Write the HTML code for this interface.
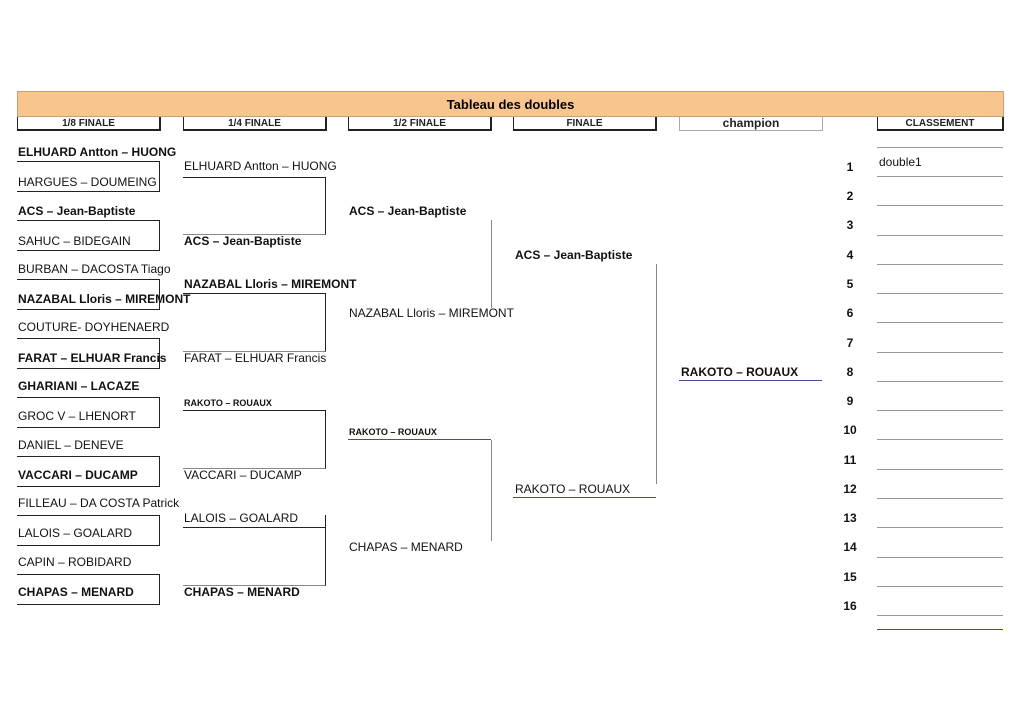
<!DOCTYPE html>
<html><head><meta charset="utf-8"><style>
body{margin:0;width:1024px;height:724px;background:#fff;position:relative;overflow:hidden;font-family:"Liberation Sans",sans-serif;}
div{position:absolute;}
.t{font-size:12px;color:#111;white-space:nowrap;line-height:14px;}
.b{font-weight:bold;}
.s{font-size:9px;font-weight:bold;}
.h{top:117px;height:12px;border:1px solid #222;border-top:none;border-width:0 2px 2px 1px;font-size:10px;font-weight:bold;text-align:center;line-height:14px;color:#222;}
.vl{width:0;border-left:1.3px solid #222;}
.g{border-color:#888;}
.bl{border-top:1.5px solid #4a4aa0;height:0;}
.n{font-size:12px;font-weight:bold;left:838px;width:24px;text-align:center;}
.cl{left:877px;width:126px;height:0;border-top:1px solid #999;}
</style></head><body>
<div style="left:17px;top:91px;width:985px;height:24px;background:#f9c58f;border:1px solid #c9a070;font-weight:bold;font-size:13px;text-align:center;line-height:26px;">Tableau des doubles</div>
<div class="h" style="left:17px;width:141px">1/8 FINALE</div>
<div class="h" style="left:183px;width:141px">1/4 FINALE</div>
<div class="h" style="left:348px;width:141px">1/2 FINALE</div>
<div class="h" style="left:513px;width:141px">FINALE</div>
<div class="h" style="left:679px;width:142px;height:13px;border-color:#aaa;border-width:0 1px 1px 1px;font-size:12px;line-height:12px">champion</div>
<div class="h" style="left:877px;width:124px">CLASSEMENT</div>

<!-- 1/8 names -->
<div class="t b" style="left:18px;top:145px">ELHUARD Antton – HUONG</div>
<div class="t" style="left:18px;top:175px">HARGUES – DOUMEING</div>
<div class="t b" style="left:18px;top:204px">ACS – Jean-Baptiste</div>
<div class="t" style="left:18px;top:234px">SAHUC – BIDEGAIN</div>
<div class="t" style="left:18px;top:262px">BURBAN – DACOSTA Tiago</div>
<div class="t b" style="left:18px;top:292px">NAZABAL Lloris – MIREMONT</div>
<div class="t" style="left:18px;top:320px">COUTURE- DOYHENAERD</div>
<div class="t b" style="left:18px;top:351px">FARAT – ELHUAR Francis</div>
<div class="t b" style="left:18px;top:379px">GHARIANI – LACAZE</div>
<div class="t" style="left:18px;top:409px">GROC V – LHENORT</div>
<div class="t" style="left:18px;top:438px">DANIEL – DENEVE</div>
<div class="t b" style="left:18px;top:468px">VACCARI – DUCAMP</div>
<div class="t" style="left:18px;top:496px">FILLEAU – DA COSTA Patrick</div>
<div class="t" style="left:18px;top:526px">LALOIS – GOALARD</div>
<div class="t" style="left:18px;top:555px">CAPIN – ROBIDARD</div>
<div class="t b" style="left:18px;top:585px">CHAPAS – MENARD</div>

<!-- 1/8 boxes -->
<div style="left:17px;top:161px;width:142px;height:29px;border:1.3px solid #222;border-left:none"></div>
<div style="left:17px;top:220px;width:142px;height:29px;border:1.3px solid #222;border-left:none"></div>
<div style="left:17px;top:279px;width:142px;height:29px;border:1.3px solid #222;border-left:none"></div>
<div style="left:17px;top:338px;width:142px;height:29px;border:1.3px solid #222;border-left:none"></div>
<div style="left:17px;top:397px;width:142px;height:29px;border:1.3px solid #222;border-left:none"></div>
<div style="left:17px;top:456px;width:142px;height:29px;border:1.3px solid #222;border-left:none"></div>
<div style="left:17px;top:515px;width:142px;height:29px;border:1.3px solid #222;border-left:none"></div>
<div style="left:17px;top:574px;width:142px;height:29px;border:1.3px solid #222;border-left:none"></div>

<!-- 1/4 -->
<div class="t" style="left:184px;top:159px">ELHUARD Antton – HUONG</div>
<div class="t b" style="left:184px;top:234px">ACS – Jean-Baptiste</div>
<div class="t b" style="left:184px;top:277px">NAZABAL Lloris – MIREMONT</div>
<div class="t" style="left:184px;top:351px">FARAT – ELHUAR Francis</div>
<div class="t s" style="left:184px;top:396px">RAKOTO – ROUAUX</div>
<div class="t" style="left:184px;top:468px">VACCARI – DUCAMP</div>
<div class="t" style="left:184px;top:511px">LALOIS – GOALARD</div>
<div class="t b" style="left:184px;top:585px">CHAPAS – MENARD</div>
<div style="left:183px;top:177px;width:142px;height:56px;border:1.3px solid #222;border-left:none;border-bottom-color:#888"></div>
<div style="left:183px;top:293px;width:142px;height:57px;border:1.3px solid #222;border-left:none;border-bottom-color:#888"></div>
<div style="left:183px;top:410px;width:142px;height:57px;border:1.3px solid #222;border-left:none;border-bottom-color:#888"></div>
<div style="left:183px;top:527px;width:142px;height:57px;border:1.3px solid #222;border-left:none;border-bottom-color:#888"></div>
<div class="vl" style="left:325px;top:515px;height:12px"></div>

<!-- 1/2 -->
<div class="t b" style="left:349px;top:204px">ACS – Jean-Baptiste</div>
<div class="t" style="left:349px;top:306px">NAZABAL Lloris – MIREMONT</div>
<div class="t s" style="left:349px;top:425px">RAKOTO – ROUAUX</div>
<div class="t" style="left:349px;top:540px">CHAPAS – MENARD</div>
<div class="vl g" style="left:491px;top:220px;height:88px"></div>
<div class="bl" style="left:348px;top:439px;width:143px"></div>
<div class="vl g" style="left:491px;top:440px;height:101px"></div>

<!-- finale -->
<div class="t b" style="left:515px;top:248px">ACS – Jean-Baptiste</div>
<div class="t" style="left:515px;top:482px">RAKOTO – ROUAUX</div>
<div class="vl g" style="left:656px;top:264px;height:220px"></div>
<div class="bl" style="left:513px;top:497px;width:143px"></div>

<!-- champion -->
<div class="t b" style="left:681px;top:365px">RAKOTO – ROUAUX</div>
<div class="bl" style="left:679px;top:380px;width:143px"></div>

<!-- classement -->
<div class="t" style="left:879px;top:155px;font-size:12px">double1</div>
<div class="t n" style="top:160px">1</div>
<div class="t n" style="top:189px">2</div>
<div class="t n" style="top:218px">3</div>
<div class="t n" style="top:248px">4</div>
<div class="t n" style="top:277px">5</div>
<div class="t n" style="top:306px">6</div>
<div class="t n" style="top:336px">7</div>
<div class="t n" style="top:365px">8</div>
<div class="t n" style="top:394px">9</div>
<div class="t n" style="top:423px">10</div>
<div class="t n" style="top:453px">11</div>
<div class="t n" style="top:482px">12</div>
<div class="t n" style="top:511px">13</div>
<div class="t n" style="top:540px">14</div>
<div class="t n" style="top:570px">15</div>
<div class="t n" style="top:599px">16</div>
<div class="cl" style="top:147px"></div>
<div class="cl" style="top:176px"></div>
<div class="cl" style="top:205px"></div>
<div class="cl" style="top:235px"></div>
<div class="cl" style="top:264px"></div>
<div class="cl" style="top:293px"></div>
<div class="cl" style="top:322px"></div>
<div class="cl" style="top:352px"></div>
<div class="cl" style="top:381px"></div>
<div class="cl" style="top:410px"></div>
<div class="cl" style="top:439px"></div>
<div class="cl" style="top:469px"></div>
<div class="cl" style="top:498px"></div>
<div class="cl" style="top:527px"></div>
<div class="cl" style="top:557px"></div>
<div class="cl" style="top:586px"></div>
<div class="cl" style="top:615px"></div>
<div class="bl" style="left:877px;top:629px;width:126px"></div>
</body></html>
